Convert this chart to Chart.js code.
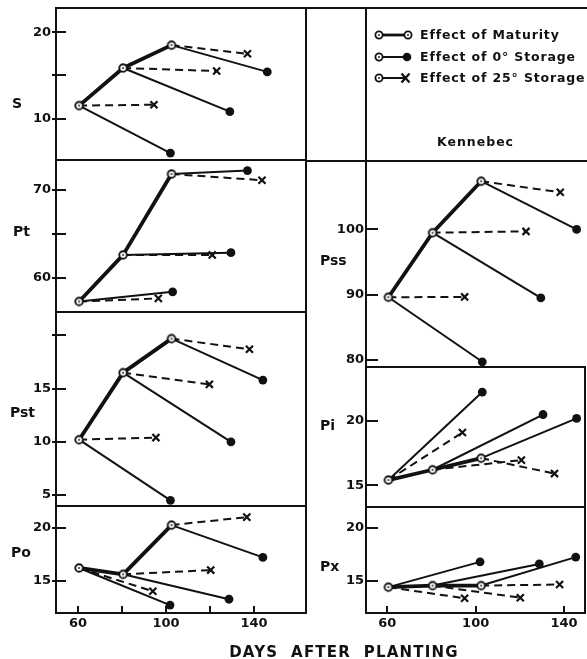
<!DOCTYPE html>
<html><head><meta charset="utf-8">
<script src="https://cdn.jsdelivr.net/npm/chart.js@4.4.1/dist/chart.umd.min.js"></script>
<style>
html,body{margin:0;padding:0;background:#fff;}
#wrap{position:relative;width:587px;height:659px;overflow:hidden;font-family:"DejaVu Sans",sans-serif;color:#111;}
#wrap canvas{position:absolute;left:0;top:0;}
.plab{position:absolute;font-weight:bold;font-size:14px;line-height:16px;height:16px;white-space:nowrap;}
.leg{position:absolute;left:374px;font-weight:bold;font-size:12.5px;letter-spacing:0.85px;line-height:16px;white-space:nowrap;}
.leg svg{position:absolute;left:0;top:2px;}
.leg span{position:absolute;left:46px;top:0;}
.line{position:absolute;background:#111;}
</style></head>
<body><div id="wrap"></div>
<script>
// ---------- data ----------
const harvestDays = [60.5, 80.5, 102.5];

const S_maturity   = [11.5, 15.85, 18.5];
const S_coldDays   = [102, 129, 146];
const S_cold       = [6.0, 10.8, 15.4];
const S_warmDays   = [94.5, 123, 137];
const S_warm       = [11.6, 15.5, 17.5];
const S_yTicks     = [10, 15, 20];
const S_yLabels    = ['10', '', '20'];

const Pt_maturity  = [57.3, 62.6, 71.8];
const Pt_coldDays  = [103, 129.5, 137];
const Pt_cold      = [58.4, 62.85, 72.2];
const Pt_warmDays  = [96.5, 121, 143.6];
const Pt_warm      = [57.65, 62.6, 71.1];
const Pt_yTicks    = [60, 65, 70];
const Pt_yLabels   = ['60', '', '70'];

const Pst_maturity = [10.2, 16.5, 19.7];
const Pst_coldDays = [102, 129.5, 144];
const Pst_cold     = [4.5, 10.0, 15.8];
const Pst_warmDays = [95.4, 119.7, 137.9];
const Pst_warm     = [10.4, 15.4, 18.7];
const Pst_yTicks   = [5, 10, 15, 20];
const Pst_yLabels  = ['5', '10', '15', ''];

const Po_maturity  = [16.2, 15.6, 20.25];
const Po_coldDays  = [101.8, 128.6, 144];
const Po_cold      = [12.7, 13.25, 17.2];
const Po_warmDays  = [94, 120.3, 136.7];
const Po_warm      = [14.0, 16.0, 21.0];
const Po_yTicks    = [15, 20];
const Po_yLabels   = ['15', '20'];

const Pss_maturity = [89.6, 99.5, 107.4];
const Pss_coldDays = [103, 129.5, 145.7];
const Pss_cold     = [79.7, 89.5, 100];
const Pss_warmDays = [95, 122.8, 138.3];
const Pss_warm     = [89.65, 99.7, 105.7];
const Pss_yTicks   = [80, 90, 100];
const Pss_yLabels  = ['80', '90', '100'];

const Pi_maturity  = [15.4, 16.2, 17.1];
const Pi_coldDays  = [103, 130.5, 145.7];
const Pi_cold      = [22.25, 20.5, 20.2];
const Pi_warmDays  = [94, 120.7, 135.7];
const Pi_warm      = [19.1, 16.95, 15.9];
const Pi_yTicks    = [15, 20];
const Pi_yLabels   = ['15', '20'];

const Px_maturity  = [14.4, 14.55, 14.55];
const Px_coldDays  = [102, 128.8, 145.3];
const Px_cold      = [16.8, 16.6, 17.25];
const Px_warmDays  = [95, 120.2, 138];
const Px_warm      = [13.35, 13.4, 14.65];
const Px_yTicks    = [15, 20];
const Px_yLabels   = ['15', '20'];

const leftXTicks   = [60, 80, 100, 120, 140];
const leftXLabels  = ['60', '', '100', '', '140'];
const rightXTicks  = [60, 100, 140];
const rightXLabels = ['60', '100', '140'];

const legendLabels = ['Effect of Maturity', 'Effect of 0° Storage', 'Effect of 25° Storage'];
const varietyName  = 'Kennebec';
const xTitle       = 'DAYS  AFTER  PLANTING';

// ---------- drawing ----------
const INK = '#111';
const W = 587, H = 659;
const wrap = document.getElementById('wrap');

function makeOpenCircle() {
  const c = document.createElement('canvas');
  c.width = 12; c.height = 12;
  const g = c.getContext('2d');
  g.beginPath(); g.arc(6, 6, 3.8, 0, Math.PI * 2);
  g.fillStyle = '#fff'; g.fill();
  g.lineWidth = 1.9; g.strokeStyle = INK; g.stroke();
  g.beginPath(); g.arc(6, 6, 0.9, 0, Math.PI * 2);
  g.fillStyle = INK; g.fill();
  return c;
}
const openCircle = makeOpenCircle();

const framePlugin = {
  id: 'frame',
  afterDraw(chart, args, o) {
    const {ctx, chartArea: a} = chart;
    ctx.save();
    ctx.strokeStyle = INK;
    ctx.lineWidth = 2;
    ctx.beginPath();
    ctx.moveTo(a.left, a.top); ctx.lineTo(a.right, a.top);
    ctx.moveTo(a.left, a.bottom); ctx.lineTo(a.right, a.bottom);
    ctx.moveTo(a.left, a.top - 1); ctx.lineTo(a.left, a.bottom + 1);
    if (o.rightLine) { ctx.moveTo(a.right, a.top - 1); ctx.lineTo(a.right, a.bottom + 1); }
    ctx.stroke();
    // tick marks crossing into the plot
    const ys = chart.scales.y;
    ctx.beginPath();
    ys.ticks.forEach(t => {
      const p = Math.round(ys.getPixelForValue(t.value));
      ctx.moveTo(a.left - o.yOut, p); ctx.lineTo(a.left + o.yIn, p);
    });
    if (o.xTicks) {
      const xs = chart.scales.x;
      xs.ticks.forEach(t => {
        const p = Math.round(xs.getPixelForValue(t.value));
        ctx.moveTo(p, a.bottom + 1); ctx.lineTo(p, a.bottom - 7);
      });
    }
    ctx.stroke();
    ctx.restore();
  }
};

function panel(cfg) {
  const cv = document.createElement('canvas');
  cv.width = W; cv.height = H;
  wrap.appendChild(cv);
  const yW = 40, xH = cfg.xTicks ? 30 : 0;
  const ds = [];
  ds.push({
    data: harvestDays.map((d, i) => ({x: d, y: cfg.maturity[i]})),
    showLine: true, borderColor: INK, borderWidth: 3.8, borderCapStyle: 'round', borderJoinStyle: 'round',
    pointStyle: openCircle, pointRadius: 4, clip: false
  });
  harvestDays.forEach((d, i) => {
    ds.push({
      data: [{x: d, y: cfg.maturity[i]}, {x: cfg.coldDays[i], y: cfg.cold[i]}],
      showLine: true, borderColor: INK, borderWidth: 2,
      pointStyle: 'circle', pointRadius: [0, 4.4], pointBackgroundColor: INK, pointBorderWidth: 0, clip: false
    });
  });
  harvestDays.forEach((d, i) => {
    ds.push({
      data: [{x: d, y: cfg.maturity[i]}, {x: cfg.warmDays[i], y: cfg.warm[i]}],
      showLine: true, borderColor: INK, borderWidth: 2, borderDash: [8, 5],
      pointStyle: 'crossRot', pointRadius: [0, 5], pointBorderColor: INK, pointBorderWidth: 2.2, clip: false
    });
  });
  const tickFont = {family: 'DejaVu Sans', size: 13, weight: 'bold'};
  new Chart(cv, {
    type: 'scatter',
    data: {datasets: ds},
    plugins: [framePlugin],
    options: {
      responsive: false, animation: false, events: [],
      layout: {autoPadding: false, padding: {
        left: cfg.area[0] - yW, top: cfg.area[1], right: W - cfg.area[2], bottom: H - cfg.area[3] - xH}},
      plugins: {legend: {display: false}, tooltip: {enabled: false},
        frame: {yOut: cfg.yOut, yIn: cfg.yIn, xTicks: !!cfg.xTicks, rightLine: cfg.rightLine}},
      elements: {line: {tension: 0}},
      scales: {
        x: {
          type: 'linear', min: cfg.xRange[0], max: cfg.xRange[1], display: !!cfg.xTicks,
          grid: {display: false, drawTicks: false}, border: {display: false},
          afterBuildTicks: s => { if (cfg.xTicks) s.ticks = cfg.xTicks.map(v => ({value: v})); },
          afterFit: s => { s.height = xH; s.paddingLeft = 0; s.paddingRight = 0; },
          ticks: {autoSkip: false, maxRotation: 0, padding: 3, color: INK, font: tickFont,
            callback: (v, i) => cfg.xLabels ? cfg.xLabels[i] : ''}
        },
        y: {
          type: 'linear', min: cfg.yRange[0], max: cfg.yRange[1],
          grid: {display: false, drawTicks: false}, border: {display: false},
          afterBuildTicks: s => { s.ticks = cfg.yTicks.map(v => ({value: v})); },
          afterFit: s => { s.width = yW; s.paddingTop = 0; s.paddingBottom = 0; },
          ticks: {autoSkip: false, padding: cfg.yPad, color: INK, font: tickFont,
            callback: (v, i) => cfg.yLabels[i]}
        }
      }
    }
  });
}

const LX = [56, 306], RX = [366, 585];
const leftRange = [50, 163.6], rightRange = [50.36, 149.5];

panel({area: [LX[0], 8, LX[1], 160], xRange: leftRange, yRange: [5.2, 22.8], yTicks: S_yTicks, yLabels: S_yLabels,
  maturity: S_maturity, coldDays: S_coldDays, cold: S_cold, warmDays: S_warmDays, warm: S_warm, yOut: 4, yIn: 10, yPad: 5, rightLine: true});
panel({area: [LX[0], 160, LX[1], 312], xRange: leftRange, yRange: [56.1, 73.4], yTicks: Pt_yTicks, yLabels: Pt_yLabels,
  maturity: Pt_maturity, coldDays: Pt_coldDays, cold: Pt_cold, warmDays: Pt_warmDays, warm: Pt_warm, yOut: 4, yIn: 10, yPad: 5, rightLine: true});
panel({area: [LX[0], 312, LX[1], 506], xRange: leftRange, yRange: [3.97, 22.2], yTicks: Pst_yTicks, yLabels: Pst_yLabels,
  maturity: Pst_maturity, coldDays: Pst_coldDays, cold: Pst_cold, warmDays: Pst_warmDays, warm: Pst_warm, yOut: 4, yIn: 10, yPad: 5, rightLine: true});
panel({area: [LX[0], 506, LX[1], 613], xRange: leftRange, yRange: [11.95, 22.05], yTicks: Po_yTicks, yLabels: Po_yLabels,
  xTicks: leftXTicks, xLabels: leftXLabels,
  maturity: Po_maturity, coldDays: Po_coldDays, cold: Po_cold, warmDays: Po_warmDays, warm: Po_warm, yOut: 4, yIn: 10, yPad: 5, rightLine: true});
panel({area: [RX[0], 161, RX[1], 367], xRange: rightRange, yRange: [78.9, 110.5], yTicks: Pss_yTicks, yLabels: Pss_yLabels,
  maturity: Pss_maturity, coldDays: Pss_coldDays, cold: Pss_cold, warmDays: Pss_warmDays, warm: Pss_warm, yOut: 1, yIn: 12, yPad: 2, rightLine: false});
panel({area: [RX[0], 367, RX[1], 507], xRange: rightRange, yRange: [13.3, 24.2], yTicks: Pi_yTicks, yLabels: Pi_yLabels,
  maturity: Pi_maturity, coldDays: Pi_coldDays, cold: Pi_cold, warmDays: Pi_warmDays, warm: Pi_warm, yOut: 1, yIn: 12, yPad: 2, rightLine: true});
panel({area: [RX[0], 507, RX[1], 613], xRange: rightRange, yRange: [11.95, 22.0], yTicks: Px_yTicks, yLabels: Px_yLabels,
  xTicks: rightXTicks, xLabels: rightXLabels,
  maturity: Px_maturity, coldDays: Px_coldDays, cold: Px_cold, warmDays: Px_warmDays, warm: Px_warm, yOut: 1, yIn: 12, yPad: 2, rightLine: true});

// frame of the legend area
function hline(x, y, w) { const d = document.createElement('div'); d.className = 'line'; Object.assign(d.style, {left: x + 'px', top: (y - 1) + 'px', width: w + 'px', height: '2px'}); wrap.appendChild(d); }
function vline(x, y, h) { const d = document.createElement('div'); d.className = 'line'; Object.assign(d.style, {left: (x - 1) + 'px', top: y + 'px', width: '2px', height: h + 'px'}); wrap.appendChild(d); }
hline(306, 8, 281); hline(306, 161, 281); vline(366, 7, 155);

// panel labels
const plabels = [['S', 12, 103], ['Pt', 13, 231], ['Pst', 10, 412], ['Po', 11, 552], ['Pss', 320, 260], ['Pi', 320, 425], ['Px', 320, 566]];
plabels.forEach(([t, x, y]) => {
  const d = document.createElement('div'); d.className = 'plab'; d.textContent = t;
  d.style.left = x + 'px'; d.style.top = (y - 8) + 'px'; wrap.appendChild(d);
});

// legend
const glyphs = [
  '<line x1="5" y1="6" x2="34" y2="6" stroke="#111" stroke-width="2.8"/><circle cx="5" cy="6" r="3.6" fill="#fff" stroke="#111" stroke-width="1.8"/><circle cx="34" cy="6" r="3.6" fill="#fff" stroke="#111" stroke-width="1.8"/><circle cx="5" cy="6" r="0.9" fill="#111"/><circle cx="34" cy="6" r="0.9" fill="#111"/>',
  '<line x1="5" y1="6" x2="33" y2="6" stroke="#111" stroke-width="2"/><circle cx="5" cy="6" r="3.6" fill="#fff" stroke="#111" stroke-width="1.8"/><circle cx="5" cy="6" r="0.9" fill="#111"/><circle cx="33" cy="6" r="4.3" fill="#111"/>',
  '<line x1="5" y1="6" x2="31" y2="6" stroke="#111" stroke-width="2"/><circle cx="5" cy="6" r="3.6" fill="#fff" stroke="#111" stroke-width="1.8"/><circle cx="5" cy="6" r="0.9" fill="#111"/><path d="M27.5 1.5 L35.5 10.5 M35.5 1.5 L27.5 10.5" stroke="#111" stroke-width="2.2"/>'
];
const legY = [35, 57, 78];
legendLabels.forEach((t, i) => {
  const d = document.createElement('div'); d.className = 'leg';
  d.style.top = (legY[i] - 8) + 'px';
  d.innerHTML = '<svg width="40" height="12">' + glyphs[i] + '</svg><span></span>';
  d.querySelector('span').textContent = t;
  wrap.appendChild(d);
});
const kd = document.createElement('div');
Object.assign(kd.style, {position: 'absolute', left: '366px', width: '219px', top: '134px', textAlign: 'center', fontWeight: 'bold', fontSize: '12.5px', letterSpacing: '1px', lineHeight: '16px'});
kd.textContent = varietyName; wrap.appendChild(kd);

// x-axis title
const xt = document.createElement('div');
Object.assign(xt.style, {position: 'absolute', left: '0', width: '688px', top: '643px', textAlign: 'center', fontWeight: 'bold', fontSize: '15px', letterSpacing: '1.2px', lineHeight: '18px', whiteSpace: 'pre'});
xt.textContent = xTitle; wrap.appendChild(xt);
</script>
</body></html>
